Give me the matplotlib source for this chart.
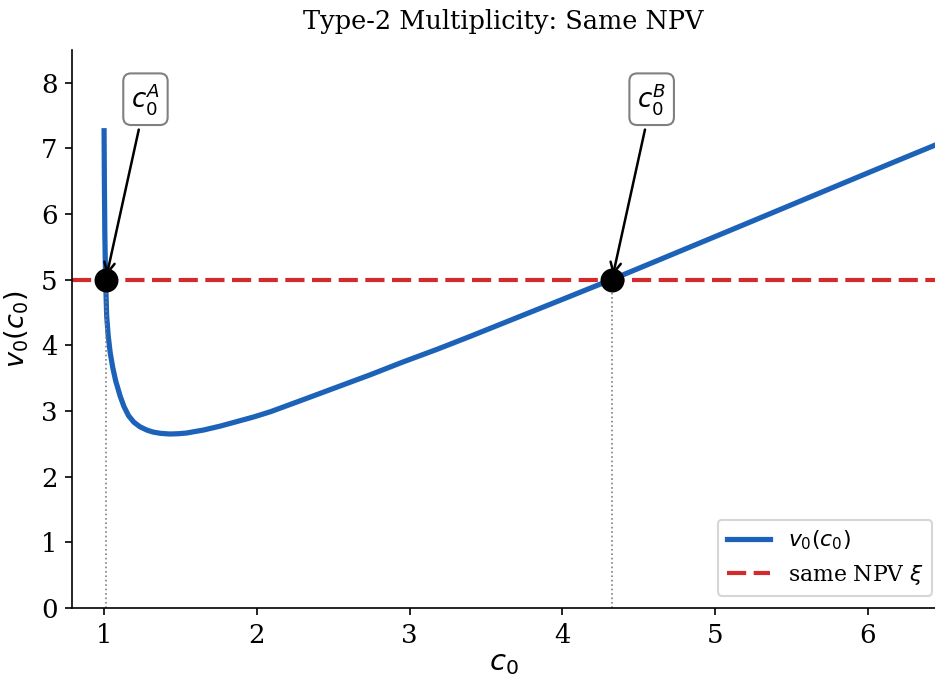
import numpy as np
import matplotlib
matplotlib.use("Agg")
import matplotlib.pyplot as plt

# values
c0 = [1.000, 1.002, 1.005, 1.010, 1.017, 1.027, 1.040, 1.057, 1.076, 1.105,
      1.130, 1.160, 1.195, 1.235, 1.28, 1.32, 1.37, 1.43, 1.49, 1.54,
      1.60, 1.65, 1.76, 1.87, 1.98, 2.09, 2.30, 2.52, 2.74, 2.96,
      3.18, 3.40, 3.70, 4.00, 4.32, 4.60, 4.90, 5.20, 5.55, 5.90,
      6.20, 6.44]
v0 = [7.27, 6.50, 5.70, 5.00, 4.45, 4.15, 3.89, 3.66, 3.46, 3.23,
      3.07, 2.93, 2.83, 2.76, 2.71, 2.68, 2.66, 2.65, 2.655, 2.665,
      2.69, 2.71, 2.77, 2.84, 2.91, 2.99, 3.17, 3.36, 3.55, 3.75,
      3.94, 4.14, 4.42, 4.70, 5.00, 5.27, 5.56, 5.85, 6.19, 6.53,
      6.82, 7.05]
xi = 5.0
roots = [1.011, 4.325]
root_names = ["A", "B"]

plt.rcParams['font.family'] = 'serif'
plt.rcParams['font.serif'] = ['DejaVu Serif']

fig = plt.figure(figsize=(935 / 150, 679 / 150), dpi=150)
ax = fig.add_axes([0.077, 0.1046, 0.923, 0.8218])

ax.plot(c0, v0, color="#1c62b9", lw=2.5, label=r"$v_0(c_0)$")
ax.axhline(xi, color="#d22b2b", lw=2, ls=(0, (4.6, 1.8)), label=r"same NPV $\xi$")

for r, name in zip(roots, root_names):
    ax.plot([r, r], [0, xi], color="gray", lw=0.8, ls=":")
    ax.plot(r, xi, "o", color="black", ms=10.5, zorder=5)
    ax.annotate(rf"$c_0^{name}$", xy=(r, xi), xytext=(r + 0.26, 7.75),
                ha="center", va="center", fontsize=12.5,
                bbox=dict(boxstyle="round,pad=0.3", fc="white", ec="gray"),
                arrowprops=dict(arrowstyle="->", color="black", lw=1.2))

ax.set_xlim(0.79, 6.44)
ax.set_ylim(0, 8.5)
ax.set_xticks([1, 2, 3, 4, 5, 6])
ax.set_yticks(range(0, 9))
ax.tick_params(labelsize=12.5)
ax.spines['top'].set_visible(False)
ax.spines['right'].set_visible(False)

ax.set_xlabel(r"$c_0$", fontsize=14)
ax.set_ylabel(r"$v_0(c_0)$", fontsize=13)
ax.xaxis.set_label_coords(0.5, -0.073)
ax.yaxis.set_label_coords(-0.048, 0.5)
ax.set_title("Type-2 Multiplicity: Same NPV", fontsize=12.3, pad=10)
ax.legend(loc="lower right", bbox_to_anchor=(0.997, 0.022), borderaxespad=0,
          fontsize=10.5)

fig.savefig("out.png", dpi=150)
